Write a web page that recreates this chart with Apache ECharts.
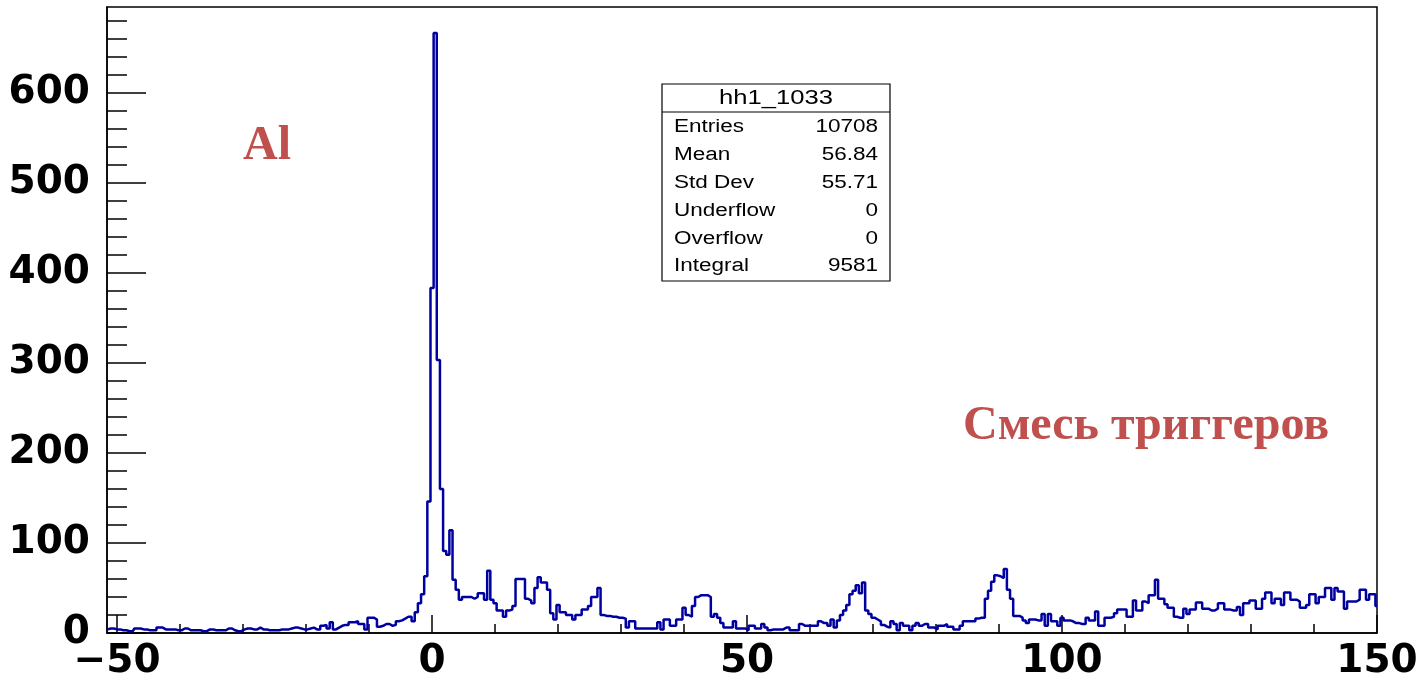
<!DOCTYPE html>
<html><head><meta charset="utf-8">
<script src="https://cdn.jsdelivr.net/npm/echarts@6/dist/echarts.min.js"></script>
<style>html,body{margin:0;padding:0;background:#fff}#c{width:1422px;height:678px}</style>
</head><body><div id="c"></div>
<script>
// Histogram hh1_1033: bins of width 0.5, first bin centred at -51.5
const BIN_FIRST_CENTER = -51.5;
const BIN_WIDTH = 0.5;

// counts, bins -51.5 .. -2.5
const countsTail = [4,5,5,4,4,3,3,2,2,5, 5,4,4,3,3,3,6,6,4,4, 4,4,3,3,5,5,3,3,3,3,
  2,2,4,4,3,3,3,3,5,5, 3,2,2,4,5,5,4,4,6,4, 4,3,3,3,3,4,4,4,5,6,
  6,5,4,4,5,6,4,4,8,9, 5,12,4,6,8,9,9,12,12,13, 10,10,4,17,17,15,7,8,10,10,
  8,9,13,14,16,18,18,13,23];
// counts, bins -2.0 .. 51.0
const countsPeak = [33,43,63,146,383,666,303,160,91,87, 114,59,48,37,40,40,40,38,40,44,
  44,37,69,37,33,25,25,18,25,26, 30,60,60,60,38,36,33,50,62,56,
  56,48,22,15,31,23,23,20,20,15, 20,20,26,26,30,40,40,50,20,19,
  19,18,18,17,17,16,6,13,13,5, 5,5,5,5,5,5,12,4,15,15,
  8,8,15,15,28,20,18,30,40,42, 42,42,40,18,21,17,11,6,6,6,
  13,5,5,5,3,8,8];
// counts, bins 51.5 .. 101.0
const countsMid = [5,5,10,6,3,4,4,4,4,6, 6,3,3,3,10,8,8,8,8,8,
  13,11,11,8,15,6,14,20,25,31, 43,47,53,44,56,25,21,17,15,13,
  9,7,6,13,10,3,11,8,8,3, 8,11,8,10,10,6,6,4,8,8,
  10,7,7,4,4,8,13,13,13,13, 16,17,17,38,47,57,64,63,61,71,
  48,38,19,19,17,14,11,15,15,14, 14,21,8,21,13,13,8,17,14,14];
// counts, bins 101.5 .. 150.0
const countsHigh = [13,11,11,10,10,17,14,14,24,8, 8,17,17,18,22,26,26,26,18,18,
  36,25,25,35,33,42,42,59,38,38, 32,28,28,18,17,17,27,21,26,26,
  34,34,27,27,25,25,27,33,33,26, 26,25,25,29,20,33,33,36,36,27,
  27,38,45,45,33,38,38,31,45,45, 37,37,35,28,28,31,43,43,33,40,
  40,50,50,37,50,46,46,27,35,35, 35,37,48,48,37,43,43,30];

const xMajorTicks = [-50, 0, 50, 100, 150];
const xMinorTicks = [-50,-40,-30,-20,-10,0,10,20,30,40,50,60,70,80,90,100,110,120,130,140,150];
const yMajorTicks = [0,100,200,300,400,500,600];
const yMinorTicks = [0,20,40,60,80,100,120,140,160,180,200,220,240,260,280,300,320,340,360,380,400,420,440,460,480,500,520,540,560,580,600,620,640,660,680];

const statTitle = 'hh1_1033';
const statLabels = ['Entries','Mean','Std Dev','Underflow','Overflow','Integral'];
const statValues = ['10708','56.84','55.71','0','0','9581'];

const annotationLeft = 'Al';
const annotationRight = 'Смесь триггеров';

const counts = countsTail.concat(countsPeak, countsMid, countsHigh);
const histData = counts.map((v, i) => [BIN_FIRST_CENTER + i * BIN_WIDTH, v]);

const chart = echarts.init(document.getElementById('c'), null, {renderer: 'canvas'});

const tickLine = {color: '#000', width: 1.5};
const labelFont = {fontFamily: 'DejaVu Sans', fontWeight: 'bold', fontSize: 39, color: '#000'};
const fmt = v => v < 0 ? '\u2212' + Math.abs(v) : String(v);

const graphics = [];
// stat box
const bx = 662, by = 84, bw = 228, bh = 197;
graphics.push({type: 'rect', shape: {x: bx, y: by, width: bw, height: bh}, style: {fill: '#fff', stroke: '#000', lineWidth: 1.2}, z: 100});
graphics.push({type: 'line', shape: {x1: bx, y1: 112, x2: bx + bw, y2: 112}, style: {stroke: '#000', lineWidth: 1.2}, z: 101});
graphics.push({type: 'text', x: bx + bw / 2, y: 98, scaleX: 1.28, z: 101,
  style: {text: statTitle, fontSize: 20, fontFamily: 'Liberation Sans', fill: '#000', align: 'center', verticalAlign: 'middle', textAlign: 'center', textVerticalAlign: 'middle'}});
const rowY = [127, 155.5, 183, 211, 239, 266];
statLabels.forEach((lab, i) => {
  graphics.push({type: 'text', x: 674, y: rowY[i], scaleX: 1.25, z: 101,
    style: {text: lab, fontSize: 18, fontFamily: 'Liberation Sans', fill: '#000', align: 'left', verticalAlign: 'middle', textAlign: 'left', textVerticalAlign: 'middle'}});
  graphics.push({type: 'text', x: 878, y: rowY[i], scaleX: 1.25, z: 101,
    style: {text: statValues[i], fontSize: 18, fontFamily: 'Liberation Sans', fill: '#000', align: 'right', verticalAlign: 'middle', textAlign: 'right', textVerticalAlign: 'middle'}});
});
graphics.push({type: 'text', x: 243, y: 147, z: 101,
  style: {text: annotationLeft, fontSize: 48, fontWeight: 'bold', fontFamily: 'Liberation Serif', fill: '#c0504d', align: 'left', verticalAlign: 'middle', textAlign: 'left', textVerticalAlign: 'middle'}});
graphics.push({type: 'text', x: 963, y: 427, z: 101,
  style: {text: annotationRight, fontSize: 48, fontWeight: 'bold', fontFamily: 'Liberation Serif', fill: '#c0504d', align: 'left', verticalAlign: 'middle', textAlign: 'left', textVerticalAlign: 'middle'}});

chart.setOption({
  animation: false,
  backgroundColor: '#fff',
  grid: {left: 107, top: 7, right: 45, bottom: 45, show: true, borderColor: '#000', borderWidth: 1.5, backgroundColor: 'transparent', outerBoundsMode: 'none', containLabel: false},
  xAxis: [
    {type: 'value', min: -51.6, max: 150, position: 'bottom',
     axisLine: {show: true, onZero: false, lineStyle: tickLine},
     axisTick: {show: true, inside: true, length: 18, customValues: xMajorTicks, lineStyle: tickLine},
     axisLabel: Object.assign({show: true, customValues: xMajorTicks, formatter: fmt, margin: 9}, labelFont),
     splitLine: {show: false}},
    {type: 'value', min: -51.6, max: 150, position: 'bottom',
     axisLine: {show: false, onZero: false},
     axisTick: {show: true, inside: true, length: 9, customValues: xMinorTicks, lineStyle: tickLine},
     axisLabel: {show: false},
     splitLine: {show: false}}
  ],
  yAxis: [
    {type: 'value', min: 0, max: 695, position: 'left',
     axisLine: {show: true, onZero: false, lineStyle: tickLine},
     axisTick: {show: true, inside: true, length: 39, customValues: yMajorTicks, lineStyle: tickLine},
     axisLabel: Object.assign({show: true, customValues: yMajorTicks, margin: 17}, labelFont),
     splitLine: {show: false}},
    {type: 'value', min: 0, max: 695, position: 'left',
     axisLine: {show: false, onZero: false},
     axisTick: {show: true, inside: true, length: 20, customValues: yMinorTicks, lineStyle: tickLine},
     axisLabel: {show: false},
     splitLine: {show: false}}
  ],
  series: [{
    type: 'line', step: 'middle', xAxisIndex: 0, yAxisIndex: 0,
    data: histData, showSymbol: false, symbol: 'none', clip: true,
    lineStyle: {color: '#0000a0', width: 2.5}
  }],
  graphic: graphics
});
</script>
</body></html>
